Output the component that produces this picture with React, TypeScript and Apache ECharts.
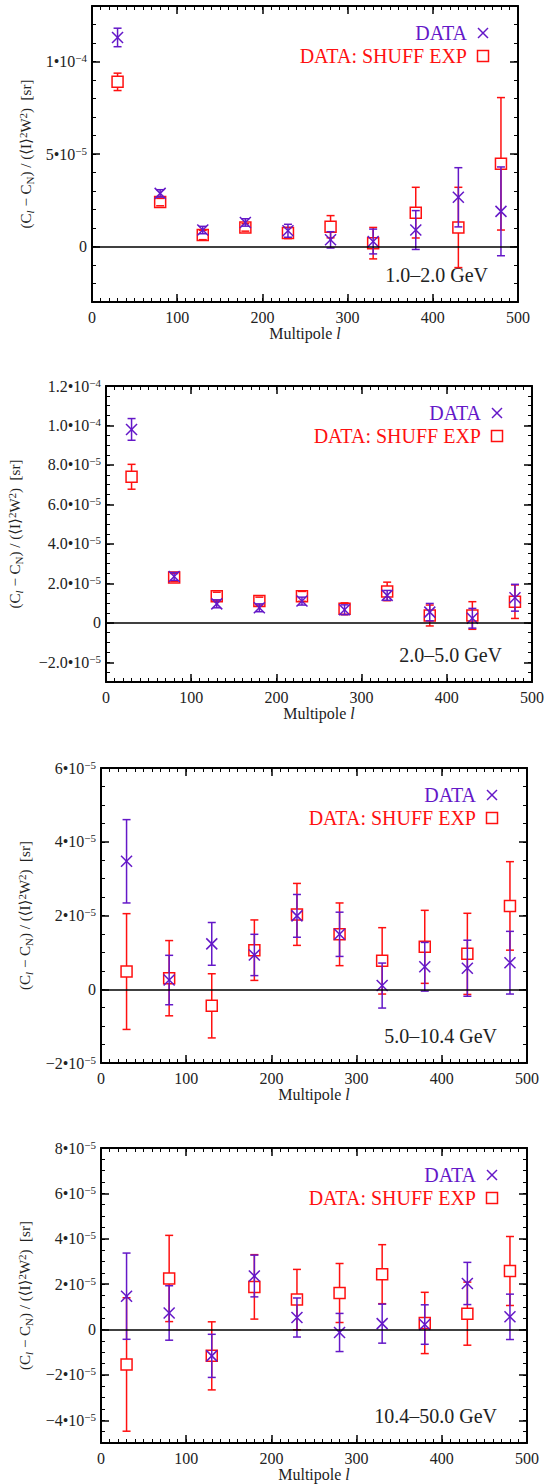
import React, { useEffect, useRef } from "react";
import * as echarts from "echarts";

// ---------------- data ----------------
const MULTIPOLE = [30, 80, 130, 180, 230, 280, 330, 380, 430, 480];

// 1.0–2.0 GeV
const P1_DATA = [11.3e-5, 2.87e-5, 0.89e-5, 1.3e-5, 0.85e-5, 0.36e-5, 0.27e-5, 0.89e-5, 2.66e-5, 1.9e-5];
const P1_DATA_ERR = [0.5e-5, 0.2e-5, 0.2e-5, 0.2e-5, 0.35e-5, 0.44e-5, 0.67e-5, 1.05e-5, 1.6e-5, 2.4e-5];
const P1_SHUFF = [8.9e-5, 2.4e-5, 0.62e-5, 1.03e-5, 0.73e-5, 1.07e-5, 0.18e-5, 1.83e-5, 1.03e-5, 4.47e-5];
const P1_SHUFF_ERR = [0.47e-5, 0.2e-5, 0.25e-5, 0.2e-5, 0.3e-5, 0.6e-5, 0.85e-5, 1.37e-5, 2.17e-5, 3.58e-5];

// 2.0–5.0 GeV
const P2_DATA = [9.8e-5, 2.35e-5, 0.96e-5, 0.76e-5, 1.1e-5, 0.66e-5, 1.39e-5, 0.54e-5, 0.23e-5, 1.27e-5];
const P2_DATA_ERR = [0.55e-5, 0.2e-5, 0.2e-5, 0.2e-5, 0.2e-5, 0.25e-5, 0.25e-5, 0.44e-5, 0.5e-5, 0.68e-5];
const P2_SHUFF = [7.4e-5, 2.3e-5, 1.35e-5, 1.1e-5, 1.34e-5, 0.71e-5, 1.59e-5, 0.37e-5, 0.37e-5, 1.07e-5];
const P2_SHUFF_ERR = [0.63e-5, 0.2e-5, 0.2e-5, 0.2e-5, 0.25e-5, 0.3e-5, 0.47e-5, 0.53e-5, 0.7e-5, 0.85e-5];

// 5.0–10.4 GeV
const P3_DATA = [3.47e-5, 0.25e-5, 1.23e-5, 0.93e-5, 1.99e-5, 1.49e-5, 0.1e-5, 0.61e-5, 0.57e-5, 0.72e-5];
const P3_DATA_ERR = [1.13e-5, 0.67e-5, 0.58e-5, 0.56e-5, 0.58e-5, 0.6e-5, 0.61e-5, 0.66e-5, 0.76e-5, 0.85e-5];
const P3_SHUFF = [0.48e-5, 0.3e-5, -0.45e-5, 1.06e-5, 2.03e-5, 1.49e-5, 0.77e-5, 1.15e-5, 0.96e-5, 2.26e-5];
const P3_SHUFF_ERR = [1.57e-5, 1.02e-5, 0.87e-5, 0.82e-5, 0.84e-5, 0.85e-5, 0.9e-5, 0.99e-5, 1.1e-5, 1.2e-5];

// 10.4–50.0 GeV
const P4_DATA = [1.47e-5, 0.73e-5, -1.16e-5, 2.36e-5, 0.53e-5, -0.13e-5, 0.26e-5, 0.22e-5, 2.03e-5, 0.56e-5];
const P4_DATA_ERR = [1.9e-5, 1.2e-5, 0.95e-5, 0.92e-5, 0.86e-5, 0.84e-5, 0.86e-5, 0.87e-5, 0.93e-5, 1.0e-5];
const P4_SHUFF = [-1.54e-5, 2.25e-5, -1.16e-5, 1.88e-5, 1.32e-5, 1.61e-5, 2.44e-5, 0.29e-5, 0.7e-5, 2.58e-5];
const P4_SHUFF_ERR = [2.94e-5, 1.9e-5, 1.5e-5, 1.42e-5, 1.33e-5, 1.3e-5, 1.3e-5, 1.35e-5, 1.39e-5, 1.52e-5];

// axes
const P1_YRANGE = [-3e-5, 13e-5];
const P2_YRANGE = [-3e-5, 12e-5];
const P3_YRANGE = [-2e-5, 6e-5];
const P4_YRANGE = [-5e-5, 8e-5];
const P1_YMINOR = 1e-5;
const P2_YMINOR = 0.5e-5;
const P3_YMINOR = 0.5e-5;
const P4_YMINOR = 0.5e-5;
const P1_YTICKS = [0, 5e-5, 10e-5];
const P1_YLABELS = ["0", "5•10^−5", "1•10^−4"];
const P2_YTICKS = [-2e-5, 0, 2e-5, 4e-5, 6e-5, 8e-5, 10e-5, 12e-5];
const P2_YLABELS = ["−2.0•10^−5", "0", "2.0•10^−5", "4.0•10^−5", "6.0•10^−5", "8.0•10^−5", "1.0•10^−4", "1.2•10^−4"];
const P3_YTICKS = [-2e-5, 0, 2e-5, 4e-5, 6e-5];
const P3_YLABELS = ["−2•10^−5", "0", "2•10^−5", "4•10^−5", "6•10^−5"];
const P4_YTICKS = [-4e-5, -2e-5, 0, 2e-5, 4e-5, 6e-5, 8e-5];
const P4_YLABELS = ["−4•10^−5", "−2•10^−5", "0", "2•10^−5", "4•10^−5", "6•10^−5", "8•10^−5"];
const X_RANGE = [0, 500];
const X_MAJOR = 100;
const X_MINOR = 10;

const RANGE_LABELS = ["1.0–2.0 GeV", "2.0–5.0 GeV", "5.0–10.4 GeV", "10.4–50.0 GeV"];
const SERIES_NAMES = ["DATA", "DATA: SHUFF EXP"];

// ---------------- style / layout ----------------
const UNIT = 1e-5;
const PURPLE = "#6418c8";
const RED = "#ff1010";
const INK = "#222";
const SERIF = "Liberation Serif, DejaVu Serif, serif";

const LAYOUT = [
  { left: 92, top: 6, width: 426, height: 296, titleX: 26 },
  { left: 106, top: 386, width: 426, height: 296, titleX: 15 },
  { left: 101, top: 768, width: 426, height: 295, titleX: 25 },
  { left: 101, top: 1148, width: 426, height: 295, titleX: 25 },
];

const PANELS = [
  { data: P1_DATA, dErr: P1_DATA_ERR, shuff: P1_SHUFF, sErr: P1_SHUFF_ERR, yr: P1_YRANGE, minor: P1_YMINOR, ticks: P1_YTICKS, labels: P1_YLABELS },
  { data: P2_DATA, dErr: P2_DATA_ERR, shuff: P2_SHUFF, sErr: P2_SHUFF_ERR, yr: P2_YRANGE, minor: P2_YMINOR, ticks: P2_YTICKS, labels: P2_YLABELS },
  { data: P3_DATA, dErr: P3_DATA_ERR, shuff: P3_SHUFF, sErr: P3_SHUFF_ERR, yr: P3_YRANGE, minor: P3_YMINOR, ticks: P3_YTICKS, labels: P3_YLABELS },
  { data: P4_DATA, dErr: P4_DATA_ERR, shuff: P4_SHUFF, sErr: P4_SHUFF_ERR, yr: P4_YRANGE, minor: P4_YMINOR, ticks: P4_YTICKS, labels: P4_YLABELS },
];

const u = (v: number) => Math.round((v / UNIT) * 10000) / 10000;

const toRich = (s: string) => {
  const i = s.indexOf("^");
  if (i < 0) return `{m|${s}}`;
  return `{m|${s.slice(0, i)}}{s|${s.slice(i + 1)}}`;
};

const tickRich = {
  m: { fontFamily: SERIF, fontSize: 16, color: INK, lineHeight: 18 },
  s: { fontFamily: SERIF, fontSize: 11, color: INK, lineHeight: 8, verticalAlign: "top" },
};

const makeRender = (kind: "x" | "sq", color: string) => (params: any, api: any) => {
  const x = api.value(0);
  const y = api.value(1);
  const e = api.value(2);
  const c = api.coord([x, y]);
  const t = api.coord([x, y + e]);
  const b = api.coord([x, y - e]);
  const st = { stroke: color, lineWidth: 1.5, fill: "none" };
  const cap = 4;
  const h = 5.5;
  const ln = (x1: number, y1: number, x2: number, y2: number) => ({
    type: "line",
    shape: { x1, y1, x2, y2 },
    style: st,
  });
  const children: any[] = [
    ln(c[0] - cap, t[1], c[0] + cap, t[1]),
    ln(c[0] - cap, b[1], c[0] + cap, b[1]),
  ];
  if (kind === "x") {
    children.push(ln(c[0], t[1], c[0], b[1]));
    children.push(ln(c[0] - h, c[1] - h, c[0] + h, c[1] + h));
    children.push(ln(c[0] - h, c[1] + h, c[0] + h, c[1] - h));
  } else {
    if (t[1] < c[1] - h) children.push(ln(c[0], t[1], c[0], c[1] - h));
    if (b[1] > c[1] + h) children.push(ln(c[0], c[1] + h, c[0], b[1]));
    children.push({
      type: "rect",
      shape: { x: c[0] - h, y: c[1] - h, width: 2 * h, height: 2 * h },
      style: st,
    });
  }
  return { type: "group", children };
};

function buildOption() {
  const grid: any[] = [];
  const xAxis: any[] = [];
  const yAxis: any[] = [];
  const series: any[] = [];
  const graphic: any[] = [];

  PANELS.forEach((p, i) => {
    const L = LAYOUT[i];
    grid.push({ left: L.left, top: L.top, width: L.width, height: L.height, containLabel: false });

    const axLine = { show: true, onZero: false, lineStyle: { color: "#000", width: 2 } };
    const noLine = { show: false, onZero: false };
    const majTick = { show: true, inside: true, length: 8, lineStyle: { color: "#000", width: 1.5 } };
    const minTick = { show: true, inside: true, length: 4, lineStyle: { color: "#000", width: 1 } };
    const xBase = { type: "value", gridIndex: i, min: X_RANGE[0], max: X_RANGE[1], splitLine: { show: false } };

    xAxis.push({
      ...xBase,
      position: "bottom",
      interval: X_MAJOR,
      axisLine: axLine,
      axisTick: majTick,
      axisLabel: { margin: 7, color: INK, fontFamily: SERIF, fontSize: 16 },
      name: "{a|Multipole }{i|l}",
      nameLocation: "middle",
      nameGap: 23,
      nameTextStyle: {
        rich: {
          a: { fontFamily: SERIF, fontSize: 16, color: INK },
          i: { fontFamily: SERIF, fontSize: 16, color: INK, fontStyle: "italic" },
        },
      },
    });
    xAxis.push({ ...xBase, position: "bottom", interval: X_MINOR, axisLine: noLine, axisTick: minTick, axisLabel: { show: false } });
    xAxis.push({ ...xBase, position: "top", interval: X_MAJOR, axisLine: axLine, axisTick: majTick, axisLabel: { show: false } });
    xAxis.push({ ...xBase, position: "top", interval: X_MINOR, axisLine: noLine, axisTick: minTick, axisLabel: { show: false } });

    const ymin = u(p.yr[0]);
    const ymax = u(p.yr[1]);
    const ticks = p.ticks.map(u);
    const yBase = { type: "value", gridIndex: i, min: ymin, max: ymax, splitLine: { show: false } };
    const fmt = (v: number) => {
      const k = ticks.findIndex((t) => Math.abs(t - v) < 1e-6);
      return k >= 0 ? toRich(p.labels[k]) : "";
    };
    yAxis.push({
      ...yBase,
      position: "left",
      interval: u(p.minor),
      axisLine: axLine,
      axisTick: { ...majTick, customValues: ticks },
      axisLabel: { customValues: ticks, formatter: fmt, margin: 5, rich: tickRich },
    });
    yAxis.push({ ...yBase, position: "left", interval: u(p.minor), axisLine: noLine, axisTick: minTick, axisLabel: { show: false } });
    yAxis.push({
      ...yBase,
      position: "right",
      interval: u(p.minor),
      axisLine: axLine,
      axisTick: { ...majTick, customValues: ticks },
      axisLabel: { show: false },
    });
    yAxis.push({ ...yBase, position: "right", interval: u(p.minor), axisLine: noLine, axisTick: minTick, axisLabel: { show: false } });

    const shuffData = MULTIPOLE.map((m, k) => [m, u(p.shuff[k]), u(p.sErr[k])]);
    const dataData = MULTIPOLE.map((m, k) => [m, u(p.data[k]), u(p.dErr[k])]);

    series.push({
      type: "custom",
      name: SERIES_NAMES[1],
      xAxisIndex: i * 4,
      yAxisIndex: i * 4,
      renderItem: makeRender("sq", RED),
      data: shuffData,
      encode: { x: 0, y: 1 },
      markLine: {
        silent: true,
        symbol: ["none", "none"],
        label: { show: false },
        lineStyle: { color: "#000", width: 1.5, type: "solid" },
        data: [{ yAxis: 0 }],
      },
      z: 2,
    });
    series.push({
      type: "custom",
      name: SERIES_NAMES[0],
      xAxisIndex: i * 4,
      yAxisIndex: i * 4,
      renderItem: makeRender("x", PURPLE),
      data: dataData,
      encode: { x: 0, y: 1 },
      z: 3,
    });

    // legend (drawn) + range label + y title
    const R = L.left + L.width;
    const mx = R - 35;
    const tx = R - 51;
    const y1 = L.top + 27;
    const y2 = L.top + 50;
    const legFont = { fontFamily: SERIF, fontSize: 20 };
    graphic.push({
      type: "text",
      x: tx,
      y: y1,
      style: { text: SERIES_NAMES[0], fill: PURPLE, ...legFont, align: "right", verticalAlign: "middle" },
    });
    graphic.push({ type: "line", shape: { x1: mx - 5, y1: y1 - 5, x2: mx + 5, y2: y1 + 5 }, style: { stroke: PURPLE, lineWidth: 1.5 } });
    graphic.push({ type: "line", shape: { x1: mx - 5, y1: y1 + 5, x2: mx + 5, y2: y1 - 5 }, style: { stroke: PURPLE, lineWidth: 1.5 } });
    graphic.push({
      type: "text",
      x: tx,
      y: y2,
      style: { text: SERIES_NAMES[1], fill: RED, ...legFont, align: "right", verticalAlign: "middle" },
    });
    graphic.push({
      type: "rect",
      shape: { x: mx - 5.5, y: y2 - 5.5, width: 11, height: 11 },
      style: { stroke: RED, lineWidth: 1.5, fill: "none" },
    });
    graphic.push({
      type: "text",
      x: R - 30,
      y: L.top + L.height - 27,
      style: { text: RANGE_LABELS[i], fill: INK, ...legFont, align: "right", verticalAlign: "middle" },
    });
    graphic.push({
      type: "text",
      x: L.titleX,
      y: L.top + L.height / 2,
      rotation: Math.PI / 2,
      style: {
        text: "{n|(C}{sl|l}{n| − C}{sub|N}{n|) / (⟨I⟩}{sup|2}{n|W}{sup|2}{n|)  [sr]}",
        align: "center",
        verticalAlign: "middle",
        fill: INK,
        fontFamily: SERIF,
        fontSize: 15,
        rich: {
          n: { fontFamily: SERIF, fontSize: 15, fill: INK, lineHeight: 18 },
          sl: { fontFamily: SERIF, fontSize: 11, fill: INK, fontStyle: "italic", lineHeight: 8, verticalAlign: "bottom" },
          sub: { fontFamily: SERIF, fontSize: 11, fill: INK, lineHeight: 8, verticalAlign: "bottom" },
          sup: { fontFamily: SERIF, fontSize: 11, fill: INK, lineHeight: 8, verticalAlign: "top" },
        },
      },
    });
  });

  return {
    animation: false,
    backgroundColor: "#fff",
    grid,
    xAxis,
    yAxis,
    series,
    graphic: { elements: graphic },
  };
}

export default function App() {
  const ref = useRef<HTMLDivElement>(null);
  useEffect(() => {
    if (!ref.current) return;
    const chart = echarts.init(ref.current, undefined, { renderer: "svg" });
    chart.setOption(buildOption() as any);
    return () => chart.dispose();
  }, []);
  return (
    <div
      ref={ref}
      style={{ position: "absolute", left: 0, top: 0, width: 558, height: 1484, background: "#fff" }}
    />
  );
}
